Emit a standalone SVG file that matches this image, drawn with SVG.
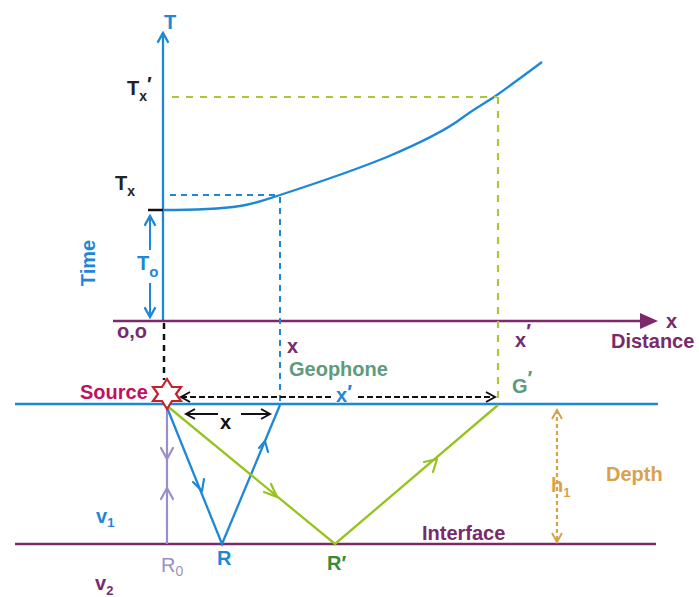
<svg xmlns="http://www.w3.org/2000/svg" width="699" height="597" viewBox="0 0 699 597">
<style>
text{font-family:"Liberation Sans",Arial,sans-serif;font-weight:bold;font-size:20px}
.blue{stroke:#1e88d6;fill:none;stroke-width:2.3}
.pur{stroke:#7a2a6c;fill:none;stroke-width:2.5}
.grn{stroke:#98c21e;fill:none;stroke-width:2.3}
.head{fill:none;stroke-width:2.2;stroke-linecap:round;stroke-linejoin:round}
</style>
<defs>
<marker id="ab" viewBox="0 0 12 12" refX="10" refY="6" markerWidth="12" markerHeight="12" markerUnits="userSpaceOnUse" orient="auto-start-reverse"><path d="M1,1 L10,6 L1,11" fill="none" stroke="#111" stroke-width="2"/></marker>
<marker id="ao" viewBox="0 0 12 12" refX="10" refY="6" markerWidth="12" markerHeight="12" markerUnits="userSpaceOnUse" orient="auto-start-reverse"><path d="M1,1 L10,6 L1,11" fill="none" stroke="#d9a24a" stroke-width="2"/></marker>
<marker id="abl" viewBox="0 0 12 12" refX="10" refY="6" markerWidth="13" markerHeight="13" markerUnits="userSpaceOnUse" orient="auto-start-reverse"><path d="M1,1 L10,6 L1,11" fill="none" stroke="#1e88d6" stroke-width="2.2"/></marker>
</defs>
<g id="connectors">
<line x1="163" y1="320" x2="163" y2="33" class="blue" stroke-width="2.5" marker-end="url(#abl)"/>
<line x1="113" y1="321" x2="645" y2="321" class="pur"/>
<path d="M640,313 L658,321 L640,329 Z" fill="#7a2a6c"/>
<path d="M163,210 C190,210 220,209 240,206 C258,203 270,198 280,195 C320,182 360,168 387,157 C420,143 445,131 462,118 C475,108 487,102 497,95 C515,82 530,71 542,62" class="blue"/>
<line x1="170" y1="195" x2="280" y2="195" stroke="#1e88d6" stroke-width="2" stroke-dasharray="6,5"/>
<line x1="280" y1="197" x2="280" y2="404" stroke="#1e88d6" stroke-width="2" stroke-dasharray="6,5"/>
<line x1="172" y1="97" x2="497" y2="97" stroke="#a8c83a" stroke-width="2.2" stroke-dasharray="7,7"/>
<line x1="498" y1="97" x2="498" y2="404" stroke="#a8c83a" stroke-width="2.2" stroke-dasharray="7,7"/>
<line x1="148" y1="210" x2="163" y2="210" stroke="#111" stroke-width="2.5"/>
<line x1="150" y1="216" x2="150" y2="250" stroke="#1e88d6" stroke-width="2" marker-start="url(#abl)"/>
<line x1="150" y1="283" x2="150" y2="317" stroke="#1e88d6" stroke-width="2" marker-end="url(#abl)"/>
<line x1="164" y1="323" x2="164" y2="380" stroke="#111" stroke-width="2.5" stroke-dasharray="6,5"/>
<line x1="15" y1="404" x2="658" y2="404" class="blue"/>
<line x1="15" y1="544" x2="656" y2="544" class="pur"/>
<line x1="181" y1="397" x2="334" y2="397" stroke="#111" stroke-width="2" stroke-dasharray="6,3" marker-start="url(#ab)"/>
<line x1="358" y1="397" x2="495" y2="397" stroke="#111" stroke-width="2" stroke-dasharray="6,3" marker-end="url(#ab)"/>
<line x1="218" y1="414" x2="186" y2="414" stroke="#111" stroke-width="2" marker-end="url(#ab)"/>
<line x1="241" y1="414" x2="270" y2="414" stroke="#111" stroke-width="2" marker-end="url(#ab)"/>
<line x1="167" y1="406" x2="167" y2="544" stroke="#9a8fc8" stroke-width="2.2"/>
<path d="M161,448 L167,459 L173,448" class="head" stroke="#9a8fc8"/>
<path d="M161,499 L167,488 L173,499" class="head" stroke="#9a8fc8"/>
<path d="M166,405 L222,544 L280,405" class="blue"/>
<path d="M193,482 L202,491 L204,479" class="head" stroke="#1e88d6"/>
<path d="M259,448 L265,441 L268,452" class="head" stroke="#1e88d6"/>
<path d="M166,405 L335,544 L498,405" class="grn"/>
<path d="M264,492 L277,497 L271,484" class="head" stroke="#98c21e"/>
<path d="M424,462 L437,459 L433,472" class="head" stroke="#98c21e"/>
<line x1="557" y1="410" x2="557" y2="542" stroke="#d9a24a" stroke-width="2.2" stroke-dasharray="4,3" marker-start="url(#ao)" marker-end="url(#ao)"/>
</g>
<g id="source">
<polygon points="167,379 172,387 181,387 176,394 181,401 172,401 167,409 162,401 153,401 158,394 153,387 162,387" fill="#fff" stroke="#c8202a" stroke-width="2.2"/>
<text x="80" y="399" fill="#c01060">Source</text>
</g>
<g id="labels">
<text x="164" y="29" fill="#1e88d6">T</text>
<text x="127" y="95" fill="#222">T<tspan font-size="14" dy="6">x</tspan><tspan dy="-10">′</tspan></text>
<text x="115" y="190" fill="#222">T<tspan font-size="14" dy="6">x</tspan></text>
<text x="137" y="270" fill="#1e88d6">T<tspan font-size="15" dy="7">o</tspan></text>
<text transform="translate(95,263) rotate(-90)" text-anchor="middle" fill="#1e88d6" font-size="19">Time</text>
<text x="117" y="338" fill="#7a2a6c">o,o</text>
<text x="287" y="353" fill="#7a2a6c">x</text>
<text x="289" y="376" fill="#5e9b7e">Geophone</text>
<text x="336" y="402" fill="#1e88d6">x<tspan dy="-3">′</tspan></text>
<text x="220" y="429" fill="#111">x</text>
<text x="515" y="347" fill="#7a2a6c">x<tspan dy="-9">′</tspan></text>
<text x="512" y="393" fill="#5e9b7e">G<tspan dy="-8">′</tspan></text>
<text x="666" y="328" fill="#7a2a6c">x</text>
<text x="611" y="348" fill="#7a2a6c">Distance</text>
<text x="606" y="481" fill="#d9a24a" font-size="19">Depth</text>
<text x="551" y="492" fill="#d9a24a" style="font-weight:600">h<tspan font-size="13" dy="5">1</tspan></text>
<text x="422" y="540" fill="#7a2a6c">Interface</text>
<text x="96" y="523" fill="#1e88d6">v<tspan font-size="13" dy="4">1</tspan></text>
<text x="95" y="590" fill="#7a2a6c">v<tspan font-size="13" dy="5">2</tspan></text>
<text x="161" y="572" fill="#9a8fc8" style="font-weight:normal">R<tspan font-size="14" dy="4">0</tspan></text>
<text x="217" y="565" fill="#1e88d6">R</text>
<text x="327" y="570" fill="#3a8a3a">R′</text>
</g>
</svg>
